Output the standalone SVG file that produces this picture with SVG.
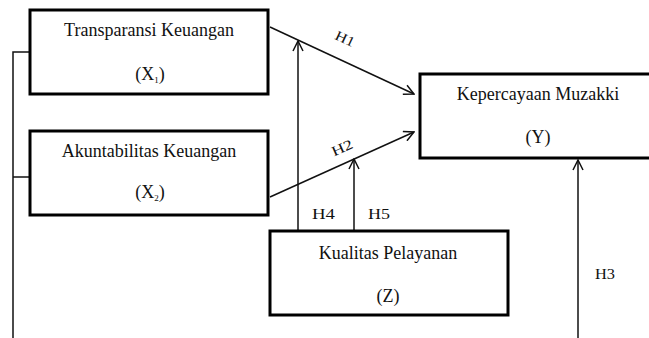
<svg xmlns="http://www.w3.org/2000/svg" width="649" height="338" viewBox="0 0 649 338">
<defs>
<style>
.box{fill:#fff;stroke:#000;stroke-width:3}
.t{font-size:18px;fill:#111;text-anchor:middle}
.c{fill:none;stroke:#111;stroke-width:1.5}
.lbl{font-size:14px;fill:#111}
</style>
<marker id="arr" viewBox="0 0 12 12" refX="11" refY="6" markerWidth="12" markerHeight="12" markerUnits="userSpaceOnUse" orient="auto">
<path d="M1,1 L11,6 L1,11" fill="none" stroke="#111" stroke-width="1.5"/>
</marker>
</defs>
<rect width="649" height="338" fill="#fff"/>
<g id="connectors" font-family="'Liberation Serif', 'Times New Roman', serif">
<polyline class="c" points="30,52 13,52 13,338" stroke-width="2"/>
<line class="c" x1="13" y1="177" x2="30" y2="177"/>
<line class="c" x1="270" y1="27" x2="414" y2="94" marker-end="url(#arr)"/>
<line class="c" x1="270" y1="197" x2="414" y2="132" marker-end="url(#arr)"/>
<line class="c" x1="298" y1="231" x2="298" y2="41" marker-end="url(#arr)"/>
<line class="c" x1="354" y1="231" x2="354" y2="159" marker-end="url(#arr)"/>
<line class="c" x1="578" y1="338" x2="578" y2="160" marker-end="url(#arr)"/>
<text class="lbl" transform="translate(343,43) rotate(25)" text-anchor="middle" textLength="20" lengthAdjust="spacingAndGlyphs">H1</text>
<text class="lbl" transform="translate(344,152) rotate(-24)" text-anchor="middle" textLength="22" lengthAdjust="spacingAndGlyphs">H2</text>
<text class="lbl" x="312" y="219" textLength="23" lengthAdjust="spacingAndGlyphs">H4</text>
<text class="lbl" x="368" y="219" textLength="22" lengthAdjust="spacingAndGlyphs">H5</text>
<text class="lbl" x="595" y="279" font-size="12" fill="#333" textLength="20" lengthAdjust="spacingAndGlyphs">H3</text>
</g>
<g id="X1" font-family="'Liberation Serif', 'Times New Roman', serif">
<rect class="box" x="30" y="10" width="238" height="84"/>
<text class="t" x="149" y="36">Transparansi Keuangan</text>
<text class="t" x="150" y="80">(X<tspan font-size="9" dy="3">1</tspan><tspan dy="-3">)</tspan></text>
</g>
<g id="X2" font-family="'Liberation Serif', 'Times New Roman', serif">
<rect class="box" x="30" y="131" width="238" height="84"/>
<text class="t" x="149" y="157">Akuntabilitas Keuangan</text>
<text class="t" x="150" y="198">(X<tspan font-size="9" dy="3">2</tspan><tspan dy="-3">)</tspan></text>
</g>
<g id="Y" font-family="'Liberation Serif', 'Times New Roman', serif">
<rect class="box" x="420" y="74" width="236" height="84"/>
<text class="t" x="538" y="100">Kepercayaan Muzakki</text>
<text class="t" x="538" y="143">(Y)</text>
</g>
<g id="Z" font-family="'Liberation Serif', 'Times New Roman', serif">
<rect class="box" x="270" y="231" width="238" height="84"/>
<text class="t" x="388" y="259">Kualitas Pelayanan</text>
<text class="t" x="388" y="302">(Z)</text>
</g>
</svg>
